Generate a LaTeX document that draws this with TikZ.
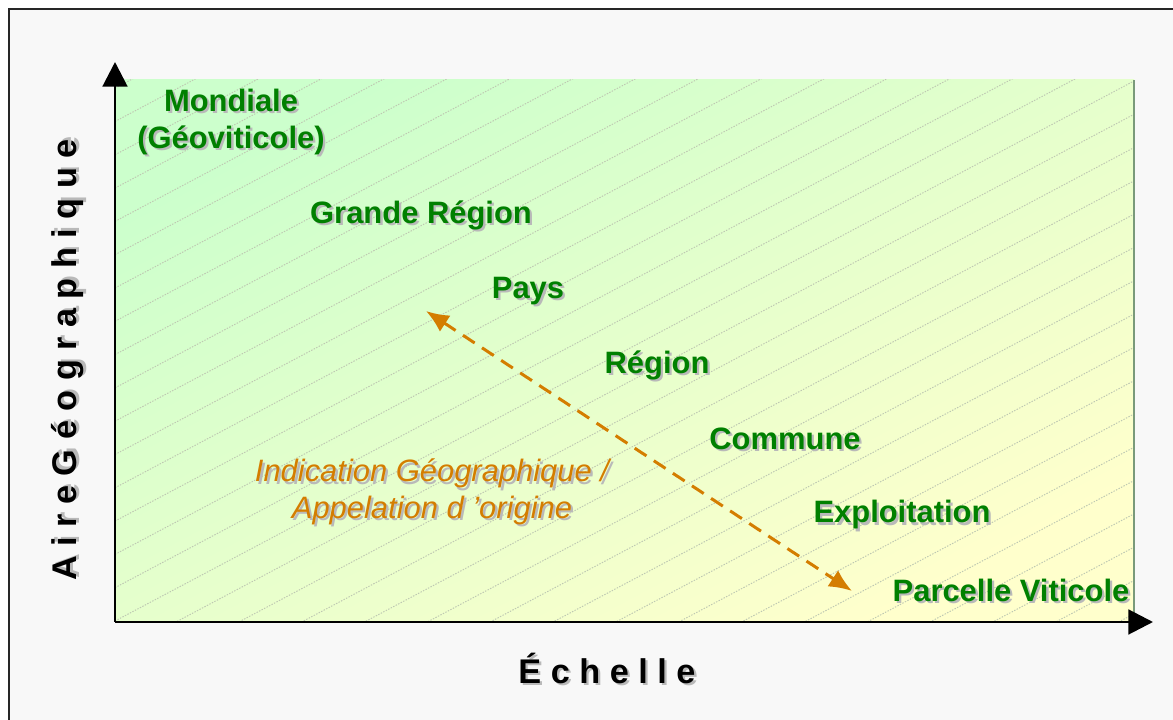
\documentclass[tikz,border=0pt]{standalone}
\usepackage{fontspec}
\setmainfont{Liberation Sans}
\usetikzlibrary{arrows.meta}
\definecolor{vertN}{RGB}{0,128,0}
\definecolor{orangeIG}{RGB}{212,125,0}
\definecolor{ombre}{RGB}{185,185,185}
\definecolor{fondG}{RGB}{204,255,204}
\definecolor{fondJ}{RGB}{255,255,204}
\definecolor{hach}{RGB}{190,200,178}
\definecolor{bordG}{RGB}{122,154,122}
\definecolor{cadre}{RGB}{248,248,248}
\tikzset{
  niveau/.style={font=\bfseries\fontsize{17.6}{21}\selectfont,text=vertN,align=center,inner sep=0pt},
  appel/.style={font=\itshape\fontsize{17.6}{21}\selectfont,text=orangeIG,align=center,inner sep=0pt},
  axetxt/.style={font=\bfseries\fontsize{19.5}{23}\selectfont,text=black,inner sep=0pt},
  hachure/.style={draw=hach,line width=0.55pt,dash pattern=on 0.8pt off 0.8pt},
}
% texte avec ombre portee
\newcommand{\ombre}[4]{%
  \node[#3,text=ombre,xshift=1.3pt,yshift=-1.3pt] (#1-o) at (#2) {#4};
  \node[#3] (#1) at (#2) {#4};}
\begin{document}
\begin{tikzpicture}[x=0.02cm,y=0.02cm,>={Triangle[length=14pt,width=14pt]}]
\useasboundingbox (0,0) rectangle (1173,720);
\draw[fill=cadre,draw=black!85,line width=0.9pt] (9,-10) rectangle (1185,711);
% fond degrade
\shade[top color=fondG,bottom color=fondJ,shading angle=28] (115,98) rectangle (1134,640);
\begin{scope}
\clip (115,98) rectangle (1134,640);
\foreach \b in {-433.8,-400.5,...,640} \draw[hachure] (115,\b) -- ++(1019,540);
\end{scope}
\draw[bordG,line width=1.2pt] (1134,98) -- (1134,640);
% axes
\coordinate (O) at (115,98);
\coordinate (yfin) at (115,658);
\coordinate (xfin) at (1153,98);
\draw[->,line width=1.7pt] (O) -- (yfin);
\draw[->,line width=1.7pt] (O) -- (xfin);
\ombre{echelle}{607,52}{axetxt}{É c h e l l e}
\ombre{aire}{68,360}{axetxt,rotate=90}{A i r e G é o g r a p h i q u e}
% niveaux
\ombre{mondiale}{231,598}{niveau}{Mondiale\\(Géoviticole)}
\ombre{grande}{421,505}{niveau}{Grande Région}
\ombre{pays}{528,429}{niveau}{Pays}
\ombre{region}{657,355}{niveau}{Région}
\ombre{commune}{785,281}{niveau}{Commune}
\ombre{exploit}{902,205}{niveau}{Exploitation}
\ombre{parcelle}{1011,130}{niveau}{Parcelle Viticole}
\ombre{ig}{432,228}{appel}{Indication Géographique /\\Appelation d ’origine}
% fleche IG
\coordinate (igH) at (426,409);
\coordinate (igB) at (852,129);
\draw[{Latex[length=13pt,width=11pt]}-{Latex[length=13pt,width=11pt]},orangeIG,line width=1.7pt,dash pattern=on 8pt off 5pt] (igH) -- (igB);
\end{tikzpicture}
\end{document}
